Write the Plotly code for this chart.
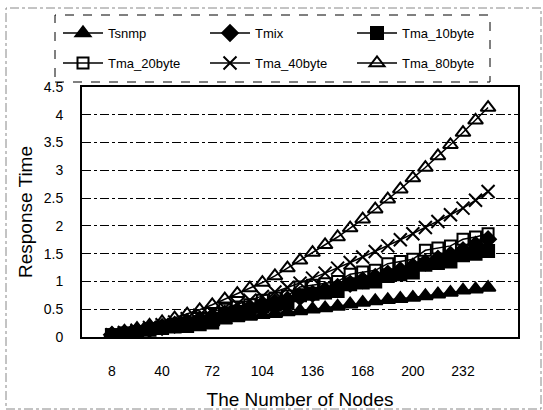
import plotly.graph_objects as go

nodes = [8, 16, 24, 32, 40, 48, 56, 64, 72, 80, 88, 96, 104, 112, 120, 128, 136, 144, 152,
         160, 168, 176, 184, 192, 200, 208, 216, 224, 232, 240, 248]
tick_nodes = [8, 40, 72, 104, 136, 168, 200, 232]

tsnmp = [0.03, 0.06, 0.09, 0.12, 0.15, 0.18, 0.21, 0.24, 0.27, 0.30, 0.34, 0.37, 0.40, 0.42, 0.45,
         0.47, 0.50, 0.52, 0.55, 0.59, 0.62, 0.65, 0.67, 0.69, 0.71, 0.74, 0.77, 0.80, 0.84, 0.86, 0.89]
tmix = [0.04, 0.07, 0.10, 0.14, 0.18, 0.22, 0.27, 0.32, 0.37, 0.42, 0.47, 0.52, 0.57, 0.62, 0.67,
        0.72, 0.78, 0.84, 0.90, 0.96, 1.02, 1.08, 1.14, 1.20, 1.27, 1.34, 1.41, 1.48, 1.56, 1.66, 1.76]
tma_10 = [0.03, 0.06, 0.09, 0.13, 0.16, 0.19, 0.20, 0.23, 0.26, 0.42, 0.45, 0.48, 0.55, 0.58, 0.62,
          0.75, 0.78, 0.80, 0.83, 0.95, 0.98, 1.00, 1.10, 1.13, 1.16, 1.30, 1.33, 1.36, 1.47, 1.50, 1.55]
tma_20 = [0.04, 0.07, 0.10, 0.15, 0.18, 0.22, 0.25, 0.28, 0.32, 0.50, 0.54, 0.58, 0.66, 0.70, 0.74,
          0.90, 0.93, 0.96, 1.00, 1.13, 1.17, 1.20, 1.32, 1.36, 1.40, 1.56, 1.60, 1.64, 1.76, 1.80, 1.86]
tma_40 = [0.04, 0.08, 0.12, 0.17, 0.22, 0.27, 0.33, 0.39, 0.45, 0.52, 0.59, 0.66, 0.73, 0.81, 0.89,
          0.97, 1.06, 1.15, 1.24, 1.34, 1.44, 1.54, 1.64, 1.75, 1.86, 1.97, 2.08, 2.20, 2.32, 2.46, 2.62]
tma_80 = [0.05, 0.10, 0.15, 0.21, 0.27, 0.34, 0.41, 0.49, 0.58, 0.68, 0.78, 0.88, 0.98, 1.10, 1.24,
          1.38, 1.52, 1.66, 1.80, 1.96, 2.12, 2.30, 2.48, 2.66, 2.86, 3.05, 3.26, 3.46, 3.68, 3.90, 4.13]

series = [
    ("Tsnmp", tsnmp, "triangle-up", 13, "legend"),
    ("Tmix", tmix, "diamond", 12, "legend"),
    ("Tma_10byte", tma_10, "square", 12, "legend"),
    ("Tma_20byte", tma_20, "square-open", 11, "legend2"),
    ("Tma_40byte", tma_40, "x-thin-open", 13, "legend2"),
    ("Tma_80byte", tma_80, "triangle-up-open", 13, "legend2"),
]

xs = [str(n) for n in nodes]
FONT = "Arial, 'Liberation Sans', sans-serif"

fig = go.Figure()
for name, vals, sym, size, lg in series:
    fig.add_trace(go.Scatter(
        x=xs, y=vals, name=name, mode="lines+markers",
        line=dict(color="black", width=1.5),
        marker=dict(symbol=sym, size=size, color="black",
                    line=dict(color="black", width=2)),
        legend=lg,
    ))

L, R, T, B = 82, 25, 87, 73
W, H = 543, 410
pw, ph = W - L - R, H - T - B

def px(x):
    return (x - L) / pw

def py(y):
    return (H - B - y) / ph

leg_common = dict(orientation="h", xanchor="left", yanchor="middle",
                  entrywidth=92, entrywidthmode="pixels", font=dict(size=13),
                  bgcolor="rgba(0,0,0,0)", itemclick=False, itemwidth=40)

fig.update_layout(
    width=W, height=H,
    margin=dict(l=L, r=R, t=T, b=B, autoexpand=False),
    paper_bgcolor="white", plot_bgcolor="white",
    font=dict(family=FONT, color="black", size=13),
    showlegend=True,
    legend=dict(x=px(58), y=py(33), **leg_common),
    legend2=dict(x=px(58), y=py(63), **leg_common),
    xaxis=dict(
        type="category", categoryorder="array", categoryarray=xs,
        tickmode="array", tickvals=[str(t) for t in tick_nodes],
        ticktext=[str(t) for t in tick_nodes],
        showgrid=False, showline=True, linecolor="black", linewidth=2, mirror=True,
        ticks="", ticklabelstandoff=20, tickfont=dict(size=14), automargin=False,
        title=dict(text="The Number of Nodes", font=dict(size=19), standoff=17),
    ),
    yaxis=dict(
        range=[0, 4.5], tickmode="array",
        tickvals=[0, 0.5, 1, 1.5, 2, 2.5, 3, 3.5, 4, 4.5],
        ticktext=["0", "0.5", "1", "1.5", "2", "2.5", "3", "3.5", "4", "4.5"],
        showgrid=True, gridcolor="black", gridwidth=1, griddash="dashdot",
        zeroline=False, showline=True, linecolor="black", linewidth=2, mirror=True,
        ticks="", ticklabelstandoff=14, tickfont=dict(size=14), automargin=False,
        title=dict(text="Response Time", font=dict(size=19), standoff=6),
    ),
    shapes=[
        dict(type="rect", xref="paper", yref="paper",
             x0=px(55), x1=px(490), y0=py(82), y1=py(15),
             line=dict(color="black", width=1, dash="dash")),
        dict(type="rect", xref="paper", yref="paper",
             x0=px(6), x1=px(541), y0=py(409), y1=py(8),
             line=dict(color="#888888", width=1, dash="dashdot")),
    ],
)

fig.write_html("out.html")
